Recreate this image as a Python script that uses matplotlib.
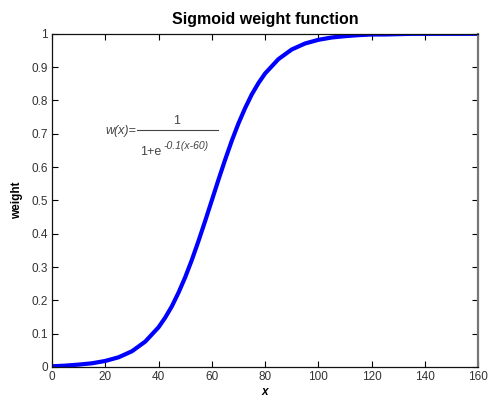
import matplotlib
matplotlib.use("Agg")
import matplotlib.pyplot as plt
from matplotlib.lines import Line2D

plt.rcParams['font.family'] = ['Liberation Sans', 'DejaVu Sans']

x_vals = [0, 5, 10, 15, 20, 25, 30, 35, 40, 42.5, 45, 47.5, 50, 52.5, 55, 57.5, 60,
          62.5, 65, 67.5, 70, 72.5, 75, 77.5, 80, 85, 90, 95, 100, 105, 110, 115, 120,
          125, 130, 135, 140, 145, 150, 155, 160]
weights = [0.002, 0.004, 0.007, 0.011, 0.018, 0.029, 0.047, 0.076, 0.119, 0.148, 0.182,
           0.223, 0.269, 0.321, 0.378, 0.438, 0.500, 0.562, 0.622, 0.679, 0.731, 0.777,
           0.818, 0.852, 0.881, 0.924, 0.953, 0.971, 0.982, 0.989, 0.993, 0.996, 0.998,
           0.998, 0.999, 1.0, 1.0, 1.0, 1.0, 1.0, 1.0]
x_ticks = [0, 20, 40, 60, 80, 100, 120, 140, 160]
y_ticks = [0, 0.1, 0.2, 0.3, 0.4, 0.5, 0.6, 0.7, 0.8, 0.9, 1]
y_ticklabels = ['0', '0.1', '0.2', '0.3', '0.4', '0.5', '0.6', '0.7', '0.8', '0.9', '1']

fig = plt.figure(figsize=(4.9, 3.98), dpi=100)
ax = fig.add_axes([0.106, 0.078, 0.870, 0.837])
ax.plot(x_vals, weights, color='#0000ff', linewidth=3.0, solid_capstyle='butt',
        solid_joinstyle='round')
ax.set_xlim(0, 160)
ax.set_ylim(0, 1)
ax.set_xticks(x_ticks)
ax.set_yticks(y_ticks)
ax.set_yticklabels(y_ticklabels)
ax.tick_params(direction='in', length=4, width=0.8, top=True, right=True,
               labelsize=8.5, labelcolor='#333333', pad=3)
for s in ['left', 'bottom', 'top']:
    ax.spines[s].set_linewidth(0.9)
    ax.spines[s].set_color('#111111')
ax.spines['right'].set_linewidth(1.6)
ax.spines['right'].set_color('#777777')

ax.set_title('Sigmoid weight function', fontsize=11.5, fontweight='bold', pad=7)
ax.set_xlabel('x', fontsize=8.5, fontweight='bold', style='italic', labelpad=2)
ax.set_ylabel('weight', fontsize=8.5, fontweight='bold', labelpad=6)

# formula annotation (pixel positions converted to figure fraction)
W, H = 490.0, 398.0
def fx(px):
    return px / W
def fy(py):
    return 1 - py / H

tc = '#444444'
fig.text(fx(136), fy(131), 'w(x)=', ha='right', va='center', fontsize=9,
         style='italic', color=tc)
fig.add_artist(Line2D([fx(137), fx(218)], [fy(130), fy(130)], color=tc, linewidth=0.8))
fig.text(fx(177), fy(121), '1', ha='center', va='center', fontsize=9, color=tc)
fig.text(fx(140), fy(152), '1+e', ha='left', va='center', fontsize=9, color=tc)
fig.text(fx(163), fy(146), '-0.1(x-60)', ha='left', va='center', fontsize=7.5,
         style='italic', color=tc)

fig.savefig('out.png', dpi=100)
